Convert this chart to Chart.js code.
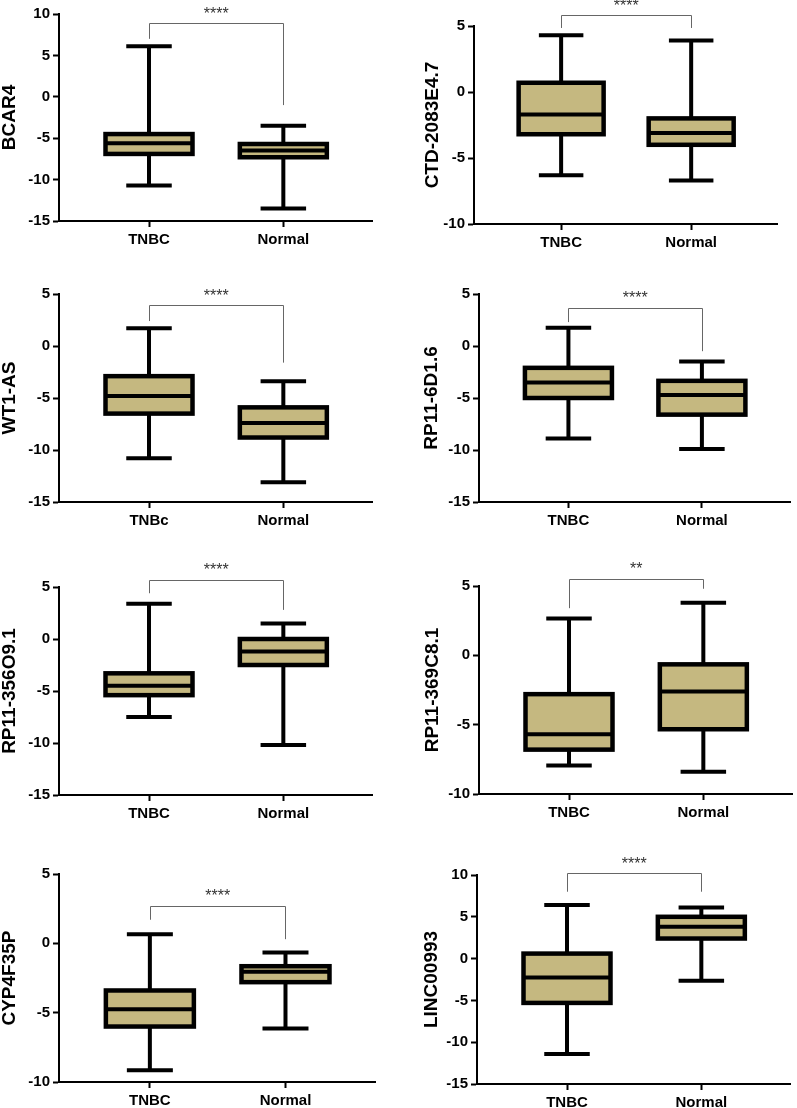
<!DOCTYPE html>
<html><head><meta charset="utf-8">
<script src="https://cdn.jsdelivr.net/npm/chart.js@4"></script>
<style>
html,body{margin:0;padding:0;background:#fff;overflow:hidden;width:797px;height:1108px;position:relative;}
canvas.p{position:absolute;}
</style></head><body>
<script>
// ---------- data ----------
const genes = ['BCAR4','CTD-2083E4.7','WT1-AS','RP11-6D1.6','RP11-356O9.1','RP11-369C8.1','CYP4F35P','LINC00993'];
const groupLabels = [
  ['TNBC','Normal'],['TNBC','Normal'],['TNBc','Normal'],['TNBC','Normal'],
  ['TNBC','Normal'],['TNBC','Normal'],['TNBC','Normal'],['TNBC','Normal']
];
const whiskerLow  = [[-10.7,-13.5],[-6.3,-6.7],[-10.8,-13.1],[-8.9,-9.9],[-7.5,-10.2],[-7.95,-8.4],[-9.15,-6.15],[-11.4,-2.65]];
const quartile1   = [[-6.9,-7.3],[-3.2,-4.0],[-6.5,-8.8],[-5.0,-6.6],[-5.4,-2.5],[-6.8,-5.33],[-6.0,-2.8],[-5.3,2.4]];
const medians     = [[-5.6,-6.5],[-1.7,-3.1],[-4.8,-7.4],[-3.5,-4.7],[-4.5,-1.2],[-5.7,-2.6],[-4.75,-2.05],[-2.25,3.8]];
const quartile3   = [[-4.5,-5.7],[0.7,-2.0],[-2.9,-5.9],[-2.1,-3.35],[-3.3,0.0],[-2.8,-0.65],[-3.4,-1.65],[0.6,5.0]];
const whiskerHigh = [[6.1,-3.5],[4.3,3.9],[1.7,-3.4],[1.75,-1.5],[3.4,1.5],[2.65,3.8],[0.65,-0.66],[6.4,6.1]];
const yAxisMin = [-15,-10,-15,-15,-15,-10,-10,-15];
const yAxisMax = [10,5,5,5,5,5,5,10];
const yTickStep = 5;
const significance = ['****','****','****','****','****','**','****','****'];
const bracketTop      = [8.9,5.8,3.9,3.7,5.7,5.5,2.7,10.2];
const bracketLeftEnd  = [7.0,4.85,2.4,2.3,4.4,3.4,1.7,8.0];
const bracketRightEnd = [-1.0,4.85,-1.6,-0.5,2.8,4.8,0.3,8.0];

// ---------- layout (canvas placement and plot-area edges, page px) ----------
const panels = [
  {cx:0,  cy:0,   cw:395, ch:270, left:59,  top:14,  right:372, bottom:221,  titleX:10},
  {cx:400,cy:0,   cw:397, ch:270, left:474, top:26,  right:777, bottom:224,  titleX:433},
  {cx:0,  cy:275, cw:395, ch:275, left:59,  top:294, right:372, bottom:502,  titleX:10},
  {cx:400,cy:275, cw:397, ch:275, left:479, top:294, right:790, bottom:502,  titleX:432},
  {cx:0,  cy:555, cw:395, ch:275, left:59,  top:587, right:372, bottom:795,  titleX:10},
  {cx:400,cy:555, cw:397, ch:275, left:479, top:586, right:792, bottom:794,  titleX:433},
  {cx:0,  cy:830, cw:395, ch:290, left:59,  top:874, right:375, bottom:1082, titleX:10},
  {cx:400,cy:830, cw:397, ch:290, left:477, top:875, right:790, bottom:1084, titleX:432}
];
const X_MIN = -0.67, X_MAX = 1.66;
const FONT = "'Liberation Sans', Arial, Helvetica, sans-serif";
const FILL = '#c5b880';
const X_AXIS_H = 30;
const TITLE_SIZE = 19;

const boxParts = {
  id: 'boxparts',
  afterDatasetsDraw(chart) {
    const i = chart.options.plugins.boxparts.index;
    const ctx = chart.ctx, ys = chart.scales.y, xs = chart.scales.x;
    const meta = chart.getDatasetMeta(0);
    ctx.save();
    ctx.strokeStyle = '#000';
    ctx.lineCap = 'butt';
    meta.data.forEach((el, j) => {
      const cx = el.x, w = el.width;
      const pHi = ys.getPixelForValue(whiskerHigh[i][j]);
      const pLo = ys.getPixelForValue(whiskerLow[i][j]);
      const pQ1 = ys.getPixelForValue(quartile1[i][j]);
      const pQ3 = ys.getPixelForValue(quartile3[i][j]);
      const pMed = ys.getPixelForValue(medians[i][j]);
      // whiskers and caps
      ctx.lineWidth = 4;
      ctx.beginPath();
      ctx.moveTo(cx, pQ3); ctx.lineTo(cx, pHi);
      ctx.moveTo(cx, pQ1); ctx.lineTo(cx, pLo);
      ctx.moveTo(cx - w/4 - 1, pHi); ctx.lineTo(cx + w/4 + 1, pHi);
      ctx.moveTo(cx - w/4 - 1, pLo); ctx.lineTo(cx + w/4 + 1, pLo);
      ctx.stroke();
      // median
      ctx.lineWidth = 4;
      ctx.beginPath();
      ctx.moveTo(cx - w/2, pMed); ctx.lineTo(cx + w/2, pMed);
      ctx.stroke();
      // box outline centred on the quartiles
      ctx.lineWidth = 4.5;
      ctx.lineJoin = 'miter';
      ctx.strokeRect(cx - w/2, pQ3, w, pQ1 - pQ3);
    });
    // significance bracket
    const xa = xs.getPixelForValue(0), xb = xs.getPixelForValue(1);
    const yt = ys.getPixelForValue(bracketTop[i]);
    const yl = ys.getPixelForValue(bracketLeftEnd[i]);
    const yr = ys.getPixelForValue(bracketRightEnd[i]);
    ctx.strokeStyle = '#666';
    ctx.lineWidth = 1;
    ctx.beginPath();
    ctx.moveTo(Math.round(xa)+0.5, yl); ctx.lineTo(Math.round(xa)+0.5, Math.round(yt)+0.5);
    ctx.lineTo(Math.round(xb)+0.5, Math.round(yt)+0.5); ctx.lineTo(Math.round(xb)+0.5, yr);
    ctx.stroke();
    ctx.fillStyle = '#333';
    ctx.font = '16px ' + FONT;
    ctx.textAlign = 'center';
    ctx.textBaseline = 'middle';
    ctx.fillText(significance[i], (xa + xb) / 2, yt - 9);
    ctx.restore();
  }
};

panels.forEach((g, i) => {
  const cv = document.createElement('canvas');
  cv.className = 'p';
  cv.width = g.cw; cv.height = g.ch;
  cv.style.left = g.cx + 'px'; cv.style.top = g.cy + 'px';
  cv.style.width = g.cw + 'px'; cv.style.height = g.ch + 'px';
  document.body.appendChild(cv);

  const padLeft = g.titleX - g.cx - TITLE_SIZE / 2;
  const yW = g.left - g.cx - padLeft;
  const padTop = g.top - g.cy;
  const padRight = g.cx + g.cw - g.right;
  const padBottom = g.cy + g.ch - g.bottom - X_AXIS_H;
  const spacing = (g.right - g.left) / (X_MAX - X_MIN);
  const barW = Math.round(spacing * 0.65);

  const tickFont = {family: FONT, size: 15, weight: 'bold'};
  new Chart(cv, {
    type: 'bar',
    data: {
      datasets: [{
        data: [0, 1].map(j => ({x: j, y: [quartile1[i][j], quartile3[i][j]]})),
        backgroundColor: FILL,
        borderWidth: 0,
        barThickness: barW
      }]
    },
    options: {
      responsive: false,
      animation: false,
      devicePixelRatio: 1,
      layout: {padding: {left: padLeft, top: padTop, right: padRight, bottom: padBottom}},
      plugins: {legend: {display: false}, tooltip: {enabled: false}, boxparts: {index: i}},
      scales: {
        x: {
          type: 'linear', min: X_MIN, max: X_MAX, offset: false,
          afterBuildTicks: s => { s.ticks = [{value: 0}, {value: 1}]; },
          afterFit: s => { s.height = X_AXIS_H; },
          ticks: {callback: v => groupLabels[i][v], font: tickFont, color: '#000', padding: 4, maxRotation: 0, autoSkip: false},
          grid: {display: true, offset: false, drawOnChartArea: false, drawTicks: true, tickLength: 6, tickWidth: 2, tickColor: '#000'},
          border: {display: true, color: '#000', width: 2}
        },
        y: {
          type: 'linear', min: yAxisMin[i], max: yAxisMax[i],
          afterFit: s => { s.width = yW; },
          ticks: {stepSize: yTickStep, font: tickFont, color: '#000', padding: 3},
          grid: {display: true, drawOnChartArea: false, drawTicks: true, tickLength: 6, tickWidth: 2, tickColor: '#000'},
          border: {display: true, color: '#000', width: 2},
          title: {display: true, text: genes[i], color: '#000', padding: 0,
                  font: {family: FONT, size: TITLE_SIZE, weight: 'bold', lineHeight: 1}}
        }
      }
    },
    plugins: [boxParts]
  });
});
</script>
</body></html>
